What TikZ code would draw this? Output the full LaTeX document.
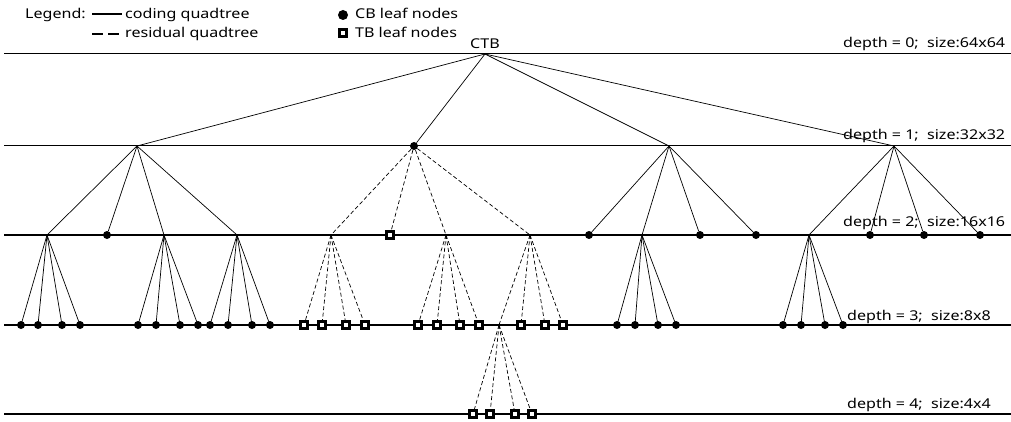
\documentclass[tikz,border=0pt]{standalone}
\usepackage{fontspec}
\setmainfont{Noto Sans}[FakeStretch=1.19]
\begin{document}
\begin{tikzpicture}[x=1pt,y=-1pt,
  lvl/.style={line width=1.3pt},
  edge/.style={line width=0.7pt},
  redge/.style={line width=0.7pt, dash pattern=on 4pt off 2.5pt},
  cb/.style={circle, fill=black, inner sep=0pt, minimum size=8pt},
  tb/.style={rectangle, draw=black, fill=white, line width=2.6pt, inner sep=0pt, minimum size=7pt},
  lbl/.style={font=\fontsize{13.5}{15}\selectfont, inner sep=0pt}
]
\useasboundingbox (0,0) rectangle (1011,422);

% level lines and labels
\foreach \y/\n in {53.5/0,145.5/1,235/2,325/3,414/4}{
  \coordinate (L\n w) at (4,\y);
  \coordinate (L\n e) at (1011,\y);
  \draw[lvl] (L\n w) -- (L\n e);
}
\node[lbl, anchor=base west] (t0) at (843,48) {depth = 0;\ \ size:64x64};
\node[lbl, anchor=base west] (t1) at (843,140) {depth = 1;\ \ size:32x32};
\node[lbl, anchor=base west] (t2) at (843,226) {depth = 2;\ \ size:16x16};
\node[lbl, anchor=base west] (t3) at (847,320) {depth = 3;\ \ size:8x8};
\node[lbl, anchor=base west] (t4) at (847,408) {depth = 4;\ \ size:4x4};

% legend
\node[lbl, anchor=base west] (lg) at (25,19) {Legend:};
\coordinate (ls1) at (92,14); \coordinate (ls2) at (122,14);
\draw[line width=1.3pt] (ls1) -- (ls2);
\node[lbl, anchor=base west] (lgc) at (125,19) {coding quadtree};
\coordinate (ld1) at (92,34); \coordinate (ld2) at (122,34);
\draw[line width=1.3pt, dash pattern=on 11pt off 5pt] (ld1) -- (ld2);
\node[lbl, anchor=base west] (lgr) at (125,38) {residual quadtree};
\node[circle, fill=black, inner sep=0pt, minimum size=10pt] (lcb) at (343,15) {};
\node[lbl, anchor=base west] (lgcb) at (355,19) {CB leaf nodes};
\node[tb] (ltb) at (343,33) {};
\node[lbl, anchor=base west] (lgtb) at (355,37.5) {TB leaf nodes};

% root
\coordinate (r) at (485,54);
\node[lbl, anchor=base] (ctb) at (485,49) {CTB};

% depth 1
\coordinate (a) at (137,146);
\coordinate (c) at (669,146);
\coordinate (d) at (894,146);
\node[cb] (b) at (414,146) {};

% depth 2
\coordinate (a1) at (47,235);
\coordinate (a3) at (164,235);
\coordinate (a4) at (237,235);
\coordinate (b1) at (331,235);
\coordinate (b3) at (446,235);
\coordinate (b4) at (530,235);
\coordinate (c2) at (642,235);
\coordinate (d1) at (809,235);
\node[cb] (a2) at (107,235) {};
\node[tb] (b2) at (390,235) {};
\node[cb] (c1) at (589,235) {};
\node[cb] (c3) at (700,235) {};
\node[cb] (c4) at (756,235) {};
\node[cb] (d2) at (870,235) {};
\node[cb] (d3) at (924,235) {};
\node[cb] (d4) at (980,235) {};

% depth 3
\coordinate (b4a) at (499,325);

% edges level 0-1
\foreach \t in {a,b,c,d} \draw[edge] (r) -- (\t);
% level 1-2
\foreach \t in {a1,a2,a3,a4} \draw[edge] (a) -- (\t);
\foreach \t in {b1,b2,b3,b4} \draw[redge] (b) -- (\t);
\foreach \t in {c1,c2,c3,c4} \draw[edge] (c) -- (\t);
\foreach \t in {d1,d2,d3,d4} \draw[edge] (d) -- (\t);

% level 2-3 coding (CB leaves)
\foreach \p/\xs in {a1/{21,38,62,80}, a3/{138,156,180,198}, a4/{210,228,252,270}, c2/{617,635,658,676}, d1/{783,801,825,843}}{
  \foreach \x [count=\i] in \xs {
    \draw[edge] (\p) -- (\x,325);
    \node[cb] (\p\i) at (\x,325) {};
  }
}
% level 2-3 residual (TB leaves)
\foreach \p/\xs in {b1/{304,322,346,365}, b3/{418,437,460,479}}{
  \foreach \x [count=\i] in \xs {
    \draw[redge] (\p) -- (\x,325);
    \node[tb] (\p\i) at (\x,325) {};
  }
}
\draw[redge] (b4) -- (b4a);
\foreach \x [count=\i] in {521,545,563}{
  \draw[redge] (b4) -- (\x,325);
  \node[tb] (b4s\i) at (\x,325) {};
}
% level 3-4 residual
\foreach \x [count=\i] in {473,490,515,532}{
  \draw[redge] (b4a) -- (\x,414);
  \node[tb] (b4a\i) at (\x,414) {};
}
\end{tikzpicture}
\end{document}
